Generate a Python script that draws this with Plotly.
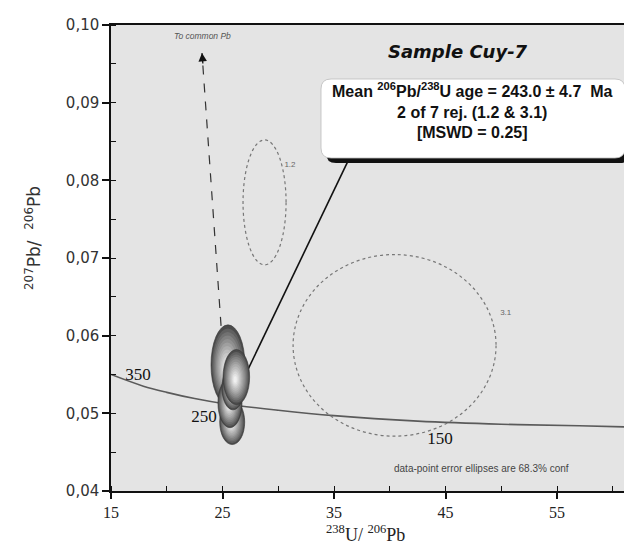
import plotly.graph_objects as go

# ---------------- data ----------------
# concordia curve (238U/206Pb, 207Pb/206Pb)
conc_x = [15, 17.9, 20, 22.5, 25.3, 30, 35, 42.5, 50, 57, 62.44]
conc_y = [0.0550, 0.0535, 0.0527, 0.0519, 0.0512, 0.0504, 0.0497, 0.0490, 0.0486, 0.0484, 0.0482]
age_labels = ["350", "250", "150"]
age_label_x = [17.42, 23.34, 44.51]
age_label_y = [0.0548, 0.0494, 0.0466]

# accepted spots (centre, semi-axes)
spot_x = [25.49, 25.87, 25.67, 25.94, 26.24]
spot_y = [0.05624, 0.04888, 0.05135, 0.05328, 0.05467]
spot_ax = [1.52, 1.12, 1.08, 0.99, 1.19]
spot_ay = [0.00515, 0.00290, 0.00320, 0.00283, 0.00354]

# rejected spots
rej_names = ["1.2", "3.1"]
rej_x = [28.77, 40.43]
rej_y = [0.07716, 0.05875]
rej_ax = [1.93, 9.10]
rej_ay = [0.00804, 0.01169]
rej_label_x = [31.05, 50.4]
rej_label_y = [0.0820, 0.0629]

# common-Pb arrow (tail -> tip) and callout line (box -> cluster)
arrow_x = [24.87, 23.16]
arrow_y = [0.06126, 0.0964]
call_x = [36.26, 27.0]
call_y = [0.0825, 0.0548]

X_RANGE = [15, 62.44]
Y_RANGE = [0.04, 0.10]
X_TICK0, X_DTICK = 15, 10
Y_TICK0, Y_DTICK = 0.04, 0.01

# ---------------- layout helpers (pixel -> paper) ----------------
L, T, W, H = 103, 17, 529, 466


def ppx(x):
    return (x - L) / W


def ppy(y):
    return (T + H - y) / H


def rounded_rect(x0, y0, x1, y1, r):
    rx, ry = r / W, r / H
    a, b, c, d = ppx(x0), ppy(y1), ppx(x1), ppy(y0)  # a<c, b<d
    return (f"M {a+rx},{b} L {c-rx},{b} Q {c},{b} {c},{b+ry} "
            f"L {c},{d-ry} Q {c},{d} {c-rx},{d} L {a+rx},{d} "
            f"Q {a},{d} {a},{d-ry} L {a},{b+ry} Q {a},{b} {a+rx},{b} Z")


fig = go.Figure()

# concordia
fig.add_trace(go.Scatter(x=conc_x, y=conc_y, mode="lines", line=dict(color="#5a5a5a", width=1.6, shape="spline"),
                         hoverinfo="skip", showlegend=False))
fig.add_trace(go.Scatter(x=age_label_x, y=age_label_y, mode="text", text=age_labels,
                         textfont=dict(family="Liberation Serif", size=17, color="#111"),
                         hoverinfo="skip", showlegend=False))
fig.add_trace(go.Scatter(x=rej_label_x, y=rej_label_y, mode="text", text=rej_names,
                         textfont=dict(family="Liberation Sans", size=8, color="#666"),
                         hoverinfo="skip", showlegend=False))

shapes = []
# dashed common-Pb line
shapes.append(dict(type="line", xref="x", yref="y", x0=arrow_x[0], y0=arrow_y[0], x1=arrow_x[1], y1=arrow_y[1],
                   line=dict(color="#333", width=1.2, dash="dash"), layer="above"))
# callout line
shapes.append(dict(type="line", xref="x", yref="y", x0=call_x[0], y0=call_y[0], x1=call_x[1], y1=call_y[1],
                   line=dict(color="#111", width=1.6), layer="above"))

# rejected ellipses (dotted)
for cx, cy, a, b in zip(rej_x, rej_y, rej_ax, rej_ay):
    shapes.append(dict(type="circle", xref="x", yref="y", x0=cx - a, x1=cx + a, y0=cy - b, y1=cy + b,
                       line=dict(color="#777", width=1.2, dash="dot"), fillcolor="rgba(0,0,0,0)", layer="above"))

# shaded accepted ellipses
n = 12
for cx, cy, a, b in zip(spot_x, spot_y, spot_ax, spot_ay):
    hx, hy = cx - 0.10 * a, cy - 0.10 * b
    for k in range(n):
        t = k / (n - 1)
        s = 1 - 0.88 * t
        g = int(75 + (240 - 75) * t ** 0.85)
        ccx = cx + (hx - cx) * (1 - s)
        ccy = cy + (hy - cy) * (1 - s)
        shapes.append(dict(type="circle", xref="x", yref="y",
                           x0=ccx - a * s, x1=ccx + a * s, y0=ccy - b * s, y1=ccy + b * s,
                           fillcolor=f"rgb({g},{g},{g})",
                           line=dict(width=0.6 if k == 0 else 0, color="#333"), layer="above"))

# callout box with shadow
shapes.append(dict(type="path", xref="paper", yref="paper", path=rounded_rect(318, 76, 622, 155, 10),
                   fillcolor="#111", line=dict(width=0), layer="above"))
shapes.append(dict(type="path", xref="paper", yref="paper", path=rounded_rect(313, 71, 617, 150, 10),
                   fillcolor="white", line=dict(width=0.8, color="#bbb"), layer="above"))

annotations = [
    dict(xref="paper", yref="paper", x=ppx(464), y=ppy(103), xanchor="center", yanchor="middle",
         text="<b>Mean <sup>206</sup>Pb/<sup>238</sup>U age = 243.0 ± 4.7  Ma<br>2 of 7 rej. (1.2 &amp; 3.1)<br>[MSWD = 0.25]</b>",
         showarrow=False, align="center", font=dict(family="Liberation Sans", size=16, color="#111")),
    dict(xref="paper", yref="paper", x=ppx(450), y=ppy(44), xanchor="center", yanchor="middle",
         text="<b><i>Sample Cuy-7</i></b>", showarrow=False,
         font=dict(family="DejaVu Sans", size=18, color="#111")),
    dict(xref="paper", yref="paper", x=ppx(194), y=ppy(28), xanchor="center", yanchor="middle",
         text="<i>To common Pb</i>", showarrow=False,
         font=dict(family="Liberation Sans", size=8.5, color="#555")),
    dict(xref="paper", yref="paper", x=ppx(473), y=ppy(460), xanchor="center", yanchor="middle",
         text="data-point error ellipses are 68.3% conf", showarrow=False,
         font=dict(family="Liberation Sans", size=10, color="#444")),
    # arrow head
    dict(xref="x", yref="y", x=arrow_x[1], y=arrow_y[1], ax=1, ay=12, axref="pixel", ayref="pixel",
         text="", showarrow=True, arrowhead=2, arrowsize=1.3, arrowwidth=1.3, arrowcolor="#111", standoff=0),
    # axis titles
    dict(xref="paper", yref="paper", x=ppx(357), y=ppy(525), xanchor="center", yanchor="middle",
         text="<sup>238</sup>U/ <sup>206</sup>Pb", showarrow=False,
         font=dict(family="Liberation Serif", size=18, color="#222")),
    dict(xref="paper", yref="paper", x=ppx(25), y=ppy(230), xanchor="center", yanchor="middle", textangle=-90,
         text="<sup>207</sup>Pb/  <sup>206</sup>Pb", showarrow=False,
         font=dict(family="DejaVu Sans", size=17, color="#333")),
]

fig.update_layout(
    width=632, height=545,
    margin=dict(l=L, r=0, t=T, b=545 - T - H),
    paper_bgcolor="white", plot_bgcolor="#e4e4e4",
    showlegend=False, separators=",.",
    shapes=shapes, annotations=annotations,
    xaxis=dict(range=X_RANGE, tickmode="linear", tick0=X_TICK0, dtick=X_DTICK, ticks="outside", ticklen=6,
               tickwidth=1.5, tickcolor="#111",
               minor=dict(tickmode="linear", tick0=X_TICK0, dtick=X_DTICK / 2, ticks="inside", ticklen=5,
                          tickwidth=1.3, tickcolor="#111", showgrid=False),
               showgrid=False, zeroline=False, showline=True, linecolor="#111", linewidth=1.5, mirror=True,
               tickfont=dict(family="Liberation Serif", size=16, color="#222")),
    yaxis=dict(range=Y_RANGE, tickmode="linear", tick0=Y_TICK0, dtick=Y_DTICK, tickformat=".2f",
               ticks="outside", ticklen=7, tickwidth=1.5,
               minor=dict(tickmode="linear", tick0=Y_TICK0, dtick=Y_DTICK / 2, ticks="inside", ticklen=5,
                          tickwidth=1.3, tickcolor="#111", showgrid=False),
               tickcolor="#111", showgrid=False, zeroline=False, showline=True, linecolor="#111", linewidth=1.5,
               tickfont=dict(family="DejaVu Sans", size=15, color="#333")),
)

fig.write_html("out.html")
